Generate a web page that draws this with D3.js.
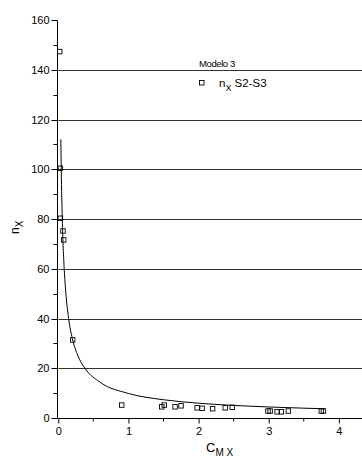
<!DOCTYPE html>
<html><head><meta charset="utf-8">
<script src="https://cdn.jsdelivr.net/npm/d3@7"></script>
<style>
html,body{margin:0;padding:0;background:#fff;}
text{font-family:"Liberation Sans",Arial,sans-serif;fill:#000;}
</style></head>
<body><svg id="c" width="362" height="463"></svg>
<script>
// Measured points (n_X S2-S3)
const ptsX = [0.02, 0.03, 0.03, 0.067, 0.077, 0.205, 0.904, 1.475, 1.51, 1.665, 1.75, 1.98, 2.05, 2.2, 2.38, 2.48, 2.99, 3.02, 3.12, 3.18, 3.28, 3.75, 3.78];
const ptsY = [147.3, 100.4, 80.3, 75.2, 71.6, 31.4, 5.2, 4.5, 5.2, 4.5, 4.9, 4.1, 3.9, 3.75, 4.1, 4.3, 2.8, 2.8, 2.5, 2.5, 2.8, 2.8, 2.8];
// Fitted curve
const fitX = [0.036, 0.042, 0.057, 0.084, 0.1, 0.147, 0.2, 0.28, 0.38, 0.6, 1.0, 1.5, 2.0, 2.5, 3.0, 3.5, 3.8];
const fitY = [112, 100, 80, 60, 53, 40, 32, 25, 20, 14.3, 9.87, 7.34, 5.95, 5.05, 4.43, 3.95, 3.72];
const yTicks = [0, 20, 40, 60, 80, 100, 120, 140, 160];
const yMinor = [10, 30, 50, 70, 90, 110, 130, 150];
const gridVals = [20, 40, 60, 80, 100, 120, 140];
const xTicks = [0, 1, 2, 3, 4];
const xMinor = [0.5, 1.5, 2.5, 3.5];

const svg = d3.select("#c");
const x = d3.scaleLinear().domain([0, 4.33]).range([58.3, 362]);
const y = d3.scaleLinear().domain([0, 160]).range([418, 20]);
const py = v => Math.round(y(v)) + 0.5;

// gridlines
svg.append("g").selectAll("line").data(gridVals).join("line")
  .attr("x1", x(0)).attr("x2", 362)
  .attr("y1", d => py(d)).attr("y2", d => py(d))
  .attr("stroke", "#333").attr("stroke-width", 1);

// y axis
const ya = svg.append("g").attr("transform", `translate(${Math.round(x(0)) - 0.5},0)`)
  .call(d3.axisLeft(y).tickValues(yTicks).tickSize(6).tickPadding(2).tickFormat(d3.format("d")));
ya.selectAll(".tick").attr("transform", d => `translate(0,${py(d)})`);
ya.selectAll("text").style("font-size", "11px").style("font-family", "Liberation Sans, Arial, sans-serif").attr("dy", "0.35em");
ya.append("g").selectAll("line").data(yMinor).join("line")
  .attr("x1", -4).attr("x2", 0).attr("y1", d => py(d)).attr("y2", d => py(d)).attr("stroke", "#000");
ya.select(".domain").attr("d", `M0,${py(160)}V${py(0)}`);

// x axis
const xa = svg.append("g").attr("transform", `translate(0,${py(0)})`)
  .call(d3.axisBottom(x).tickValues(xTicks).tickSize(5).tickPadding(4).tickFormat(d3.format("d")));
xa.selectAll("text").style("font-size", "11px").style("font-family", "Liberation Sans, Arial, sans-serif");
xa.append("g").selectAll("line").data(xMinor).join("line")
  .attr("x1", d => x(d)).attr("x2", d => x(d)).attr("y1", 0).attr("y2", 3).attr("stroke", "#000");
xa.select(".domain").attr("d", `M${x(0)},0H362`);

// curve
svg.append("path").datum(fitX.map((d, i) => [d, fitY[i]]))
  .attr("fill", "none").attr("stroke", "#000").attr("stroke-width", 1)
  .attr("d", d3.line().x(d => x(d[0])).y(d => y(d[1])).curve(d3.curveMonotoneX));

// points
const s = 4.5;
svg.append("g").selectAll("rect").data(ptsX.map((d, i) => [d, ptsY[i]])).join("rect")
  .attr("x", d => x(d[0]) - s / 2).attr("y", d => y(d[1]) - s / 2)
  .attr("width", s).attr("height", s)
  .attr("fill", "none").attr("stroke", "#000").attr("stroke-width", 0.9);

// legend
svg.append("text").attr("x", 199).attr("y", 67).style("font-size", "9.5px").style("letter-spacing", "-0.4px").text("Modelo 3");
svg.append("rect").attr("x", 199.5).attr("y", 80.5).attr("width", s).attr("height", s)
  .attr("fill", "none").attr("stroke", "#000").attr("stroke-width", 0.9);
const lt = svg.append("text").attr("x", 219).attr("y", 87).style("font-size", "11.5px");
lt.append("tspan").text("n");
lt.append("tspan").attr("dy", 4).style("font-size", "9px").text("X");
lt.append("tspan").attr("dy", -4).text(" S2-S3");

// y axis title
const yt = svg.append("text").attr("transform", "translate(19,234) rotate(-90)").style("font-size", "12px");
yt.append("tspan").text("n");
yt.append("tspan").attr("dy", 4).style("font-size", "10px").text("X");

// x axis title
const xt = svg.append("text").attr("x", 206).attr("y", 452).style("font-size", "13px");
xt.append("tspan").text("C");
xt.append("tspan").attr("dy", 4).style("font-size", "10px").text("M X");
</script></body></html>
